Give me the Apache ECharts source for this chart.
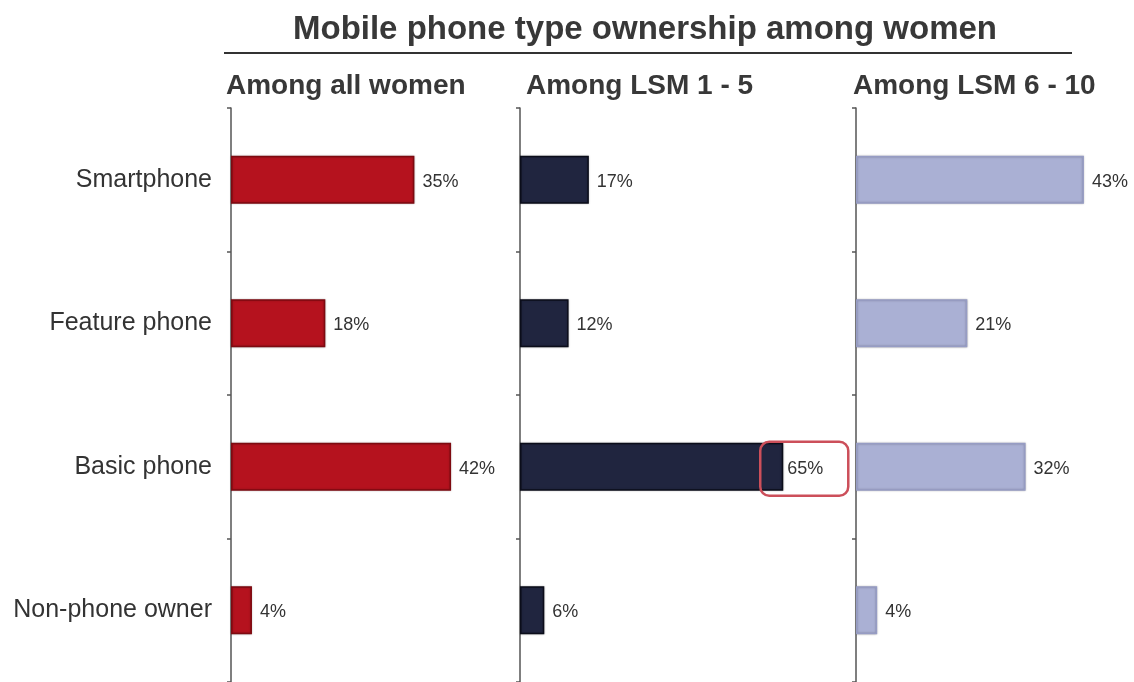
<!DOCTYPE html>
<html><head><meta charset="utf-8">
<script src="https://cdn.jsdelivr.net/npm/echarts@6/dist/echarts.min.js"></script>
<style>html,body{margin:0;padding:0;background:#fff}#c{width:1134px;height:682px}</style>
</head><body><div id="c"></div>
<script>
const categories = ['Smartphone', 'Feature phone', 'Basic phone', 'Non-phone owner'];
const panelTitles = ['Among all women', 'Among LSM 1 - 5', 'Among LSM 6 - 10'];
const allWomen = [35, 18, 42, 4];
const lsm1to5 = [17, 12, 65, 6];
const lsm6to10 = [43, 21, 32, 4];
const highlightIndex = 2; // 65% in LSM 1 - 5

const FONT = '"Liberation Sans", Arial, sans-serif';
const txt = '#333333';

const chart = echarts.init(document.getElementById('c'));

const grids = [
  {left: 231, top: 108, width: 262, height: 576},
  {left: 520, top: 108, width: 283.5, height: 576},
  {left: 856, top: 108, width: 265, height: 576}
];
const maxes = [50, 70, 50];
const seriesData = [allWomen, lsm1to5, lsm6to10];
const colors = [
  {fill: '#B5121E', border: '#7E0A10'},
  {fill: '#20253F', border: '#0B0D1A'},
  {fill: '#AAB0D4', border: '#969CC4'}
];

const xAxes = grids.map((g, i) => ({gridIndex: i, type: 'value', min: 0, max: maxes[i], show: false}));
const yAxes = grids.map((g, i) => ({
  gridIndex: i, type: 'category', data: categories, inverse: true,
  axisLine: {show: true, lineStyle: {color: '#555', width: 1.5}},
  axisTick: {show: true, length: 4, lineStyle: {color: '#555', width: 1.5}},
  axisLabel: {show: i === 0, color: txt, fontFamily: FONT, fontSize: 25, margin: 19},
  splitLine: {show: false}
}));

const series = seriesData.map((vals, i) => ({
  type: 'bar', xAxisIndex: i, yAxisIndex: i, barWidth: 48,
  itemStyle: {color: colors[i].fill, borderColor: colors[i].border, borderWidth: 1.5,
    shadowColor: 'rgba(0,0,0,0.25)', shadowBlur: 2},
  label: {show: true, position: 'right', distance: 8, formatter: '{c}%', color: txt, fontFamily: FONT, fontSize: 18, offset: [0, 2]},
  data: vals.map((v, j) => {
    if (i === 1 && j === highlightIndex) {
      return {value: v, label: {distance: -23, padding: [18, 25, 18, 27], borderColor: '#CC4F5A', borderWidth: 2.5, borderRadius: 9}};
    }
    return v;
  })
}));

const titles = [
  {text: 'Mobile phone type ownership among women', left: 640, top: 8, textAlign: 'center',
   textStyle: {fontFamily: FONT, fontSize: 33, fontWeight: 'bold', color: '#383838'}},
  ...panelTitles.map((t, i) => ({text: t, left: [221, 521, 848][i], top: 67,
   textStyle: {fontFamily: FONT, fontSize: 28, fontWeight: 'bold', color: '#383838'}}))
];

chart.setOption({
  animation: false,
  title: titles,
  grid: grids,
  xAxis: xAxes,
  yAxis: yAxes,
  series: series,
  graphic: [{type: 'line', shape: {x1: 224, y1: 53, x2: 1072, y2: 53}, style: {stroke: '#333', lineWidth: 2}}]
});
</script></body></html>
